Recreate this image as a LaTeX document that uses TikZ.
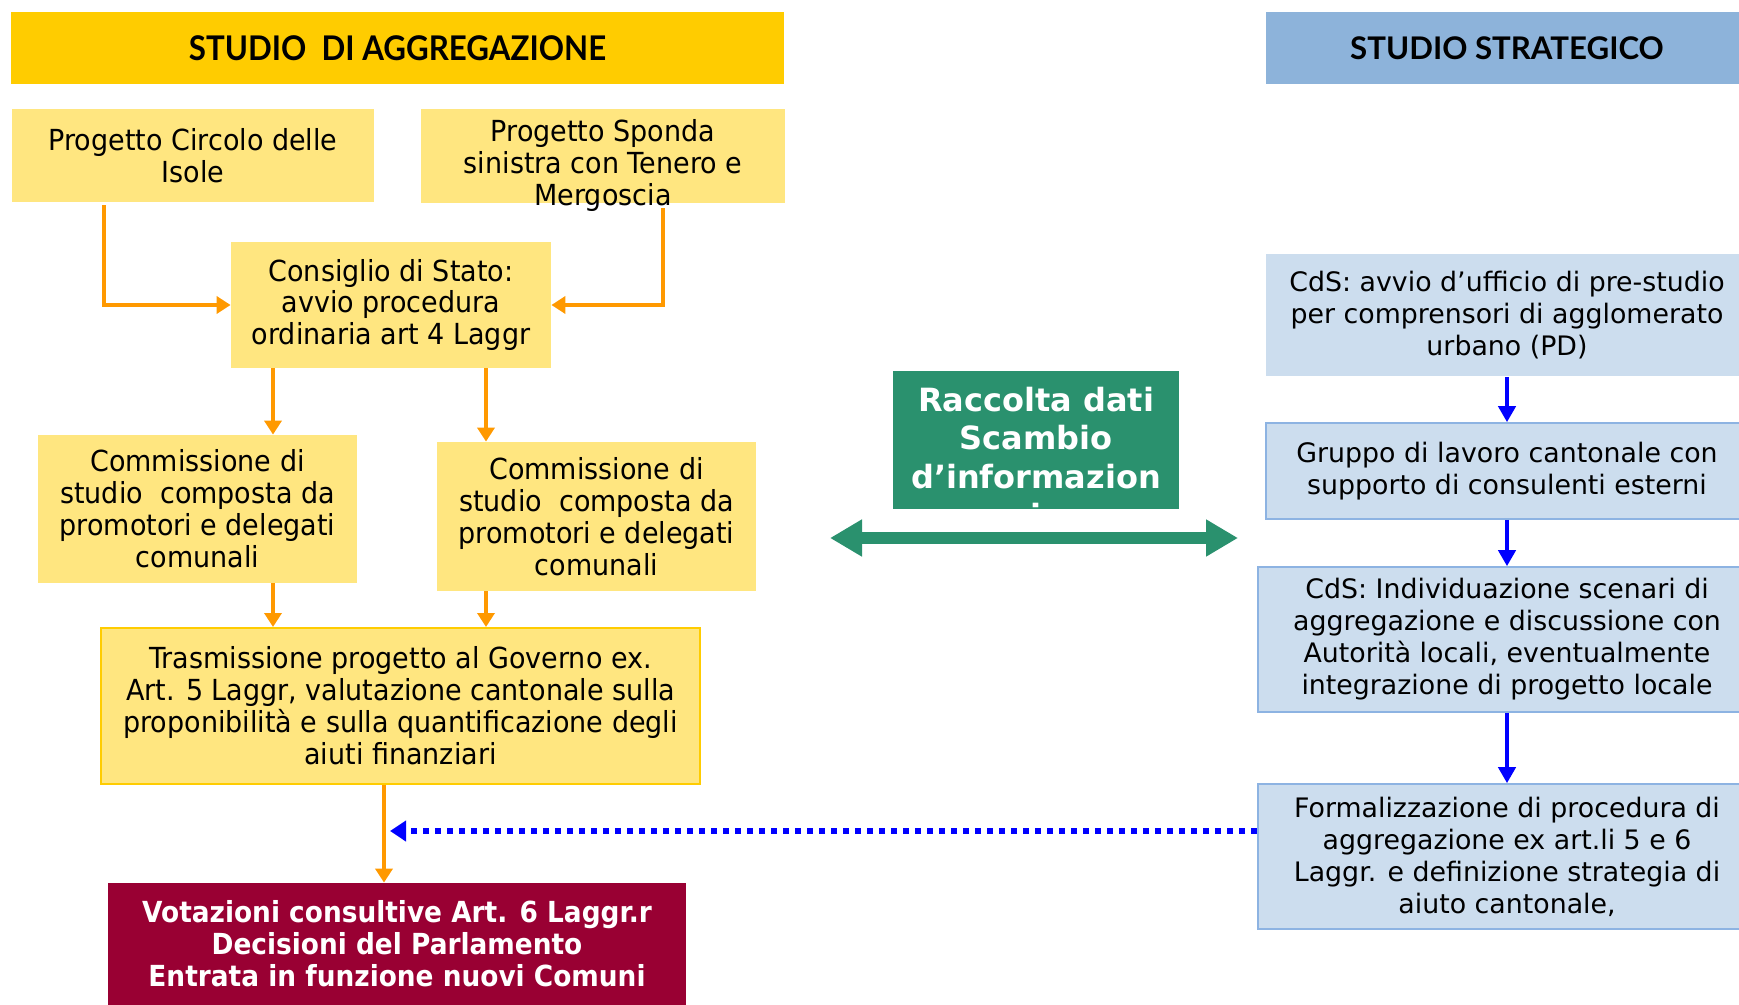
\documentclass[tikz,border=0pt]{standalone}
\usepackage{fontspec}
\setmainfont{DejaVu Sans}
\newfontfamily\leftfont[FakeStretch=0.93]{DejaVu Sans}
\newfontfamily\votfont[FakeStretch=0.91]{DejaVu Sans}
\newfontfamily\headfont{Lato}
\newfontfamily\headnarrow[FakeStretch=0.92]{Lato}
\usetikzlibrary{arrows.meta}

\definecolor{headyellow}{HTML}{FFCC00}
\definecolor{boxyellow}{HTML}{FFE680}
\definecolor{arrorange}{HTML}{FF9900}
\definecolor{votred}{HTML}{990033}
\definecolor{infogreen}{HTML}{2A916E}
\definecolor{headblue}{HTML}{8DB3DA}
\definecolor{boxblue}{HTML}{CCDDEE}
\definecolor{lineblue}{HTML}{8DB3E2}

\begin{document}
\begin{tikzpicture}[x=0.5pt,y=-0.5pt]
    \tikzstyle{every node}=[inner sep=0pt, align=center, text=black]
    \tikzstyle{ybox}=[fill=boxyellow, font=\leftfont\fontsize{14.5}{16}\selectfont]
    \tikzstyle{bbox}=[fill=boxblue, draw=lineblue, line width=0.8pt, font=\fontsize{13.4}{16}\selectfont]
    \tikzstyle{oarrow}=[arrorange, line width=2.2pt, -{Triangle[width=8.5pt,length=7pt]}]
    \tikzstyle{barrow}=[blue, line width=2.4pt, -{Triangle[width=8.5pt,length=8pt]}]

    \useasboundingbox (0,0) rectangle (1739,1005);

    \node[fill=headyellow, minimum width=386.5pt, minimum height=36pt, font=\headnarrow\bfseries\fontsize{17}{18}\selectfont] (aggr) at (397.5,48) {STUDIO\ \ DI AGGREGAZIONE};
    \node[fill=headblue, minimum width=241pt, minimum height=36pt, font=\headfont\bfseries\fontsize{15.6}{18}\selectfont] (strat) at (1507,48) {STUDIO STRATEGICO};

    \node[ybox, minimum width=181pt, minimum height=46.5pt] (circolo) at (193,155.5) {Progetto Circolo delle\\Isole};
    \node[ybox, minimum width=182pt, minimum height=47pt] (sponda) at (603,156) {};
    \node[font=\leftfont\fontsize{14.5}{16}\selectfont] (spondatxt) at (603,166) {Progetto Sponda\\sinistra con Tenero e\\Mergoscia};
    \node[ybox, minimum width=160pt, minimum height=63pt] (consiglio) at (391,305) {Consiglio di Stato:\\avvio procedura\\ordinaria art 4 Laggr};
    \node[ybox, minimum width=159.5pt, minimum height=74pt] (comm1) at (197.5,509) {Commissione di\\studio\ \ composta da\\promotori e delegati\\comunali};
    \node[ybox, minimum width=159.5pt, minimum height=74.5pt] (comm2) at (596.5,516.5) {Commissione di\\studio\ \ composta da\\promotori e delegati\\comunali};
    \node[ybox, draw=headyellow, line width=1pt, minimum width=299.5pt, minimum height=78pt] (trasm) at (400.5,706) {Trasmissione progetto al Governo ex.\\Art. 5 Laggr, valutazione cantonale sulla\\proponibilit\`a e sulla quantificazione degli\\aiuti finanziari};
    \node[fill=votred, text=white, minimum width=289pt, minimum height=61pt, font=\votfont\bfseries\fontsize{14.5}{16}\selectfont] (vot) at (397,944) {Votazioni consultive Art. 6 Laggr.r\\Decisioni del Parlamento\\Entrata in funzione nuovi Comuni};

    \node[fill=infogreen, minimum width=143pt, minimum height=69pt] (raccolta) at (1036,440) {};
    \begin{scope}
        \clip (raccolta.north west) rectangle (raccolta.south east);
        \node[text=white, font=\bfseries\fontsize{16}{19.3}\selectfont] (raccoltatxt) at (1036,457) {Raccolta dati\\Scambio\\d’informazion\\i};
    \end{scope}

    \node[bbox, draw=none, minimum width=241pt, minimum height=61pt] (avvio) at (1507,315) {CdS: avvio d’ufficio di pre-studio\\per comprensori di agglomerato\\urbano (PD)};
    \node[bbox, minimum width=241pt, minimum height=48pt] (gruppo) at (1507,471) {Gruppo di lavoro cantonale con\\supporto di consulenti esterni};
    \node[bbox, minimum width=249pt, minimum height=72.5pt] (indiv) at (1507,639.5) {CdS: Individuazione scenari di\\aggregazione e discussione con\\Autorit\`a locali, eventualmente\\integrazione di progetto locale};
    \node[bbox, minimum width=249pt, minimum height=72.5pt] (formal) at (1507,856.5) {Formalizzazione di procedura di\\aggregazione ex art.li 5 e 6\\Laggr. e definizione strategia di\\aiuto cantonale,};

    \coordinate (la) at (273,0);
    \coordinate (lb) at (486,0);
    \coordinate (lc) at (384,0);
    \coordinate (ld) at (390,831);
    \coordinate (gl) at (830,538);
    \coordinate (gr) at (1238,538);

    \draw[oarrow] ([xshift=-44.5pt,yshift=-1.5pt]circolo.south) |- (consiglio.west);
    \draw[oarrow] ([xshift=30pt,yshift=-2.5pt]sponda.south) |- (consiglio.east);
    \draw[oarrow] (la |- consiglio.south) -- (la |- comm1.north);
    \draw[oarrow] (lb |- consiglio.south) -- (lb |- comm2.north);
    \draw[oarrow] (la |- comm1.south) -- (la |- trasm.north);
    \draw[oarrow] (lb |- comm2.south) -- (lb |- trasm.north);
    \draw[oarrow] (lc |- trasm.south) -- (lc |- vot.north);

    \draw[barrow] (avvio.south) -- (gruppo.north);
    \draw[barrow] (gruppo.south) -- (indiv.north);
    \draw[barrow] (indiv.south) -- (formal.north);
    \draw[blue, line width=3.3pt, dash pattern=on 3pt off 3pt, -{Triangle[width=10pt,length=8pt]}] (formal.west |- ld) -- (ld);

    \draw[infogreen, line width=6pt, {Triangle[width=17.5pt,length=16pt]}-{Triangle[width=17.5pt,length=16pt]}] (gl) -- (gr);
\end{tikzpicture}
\end{document}
